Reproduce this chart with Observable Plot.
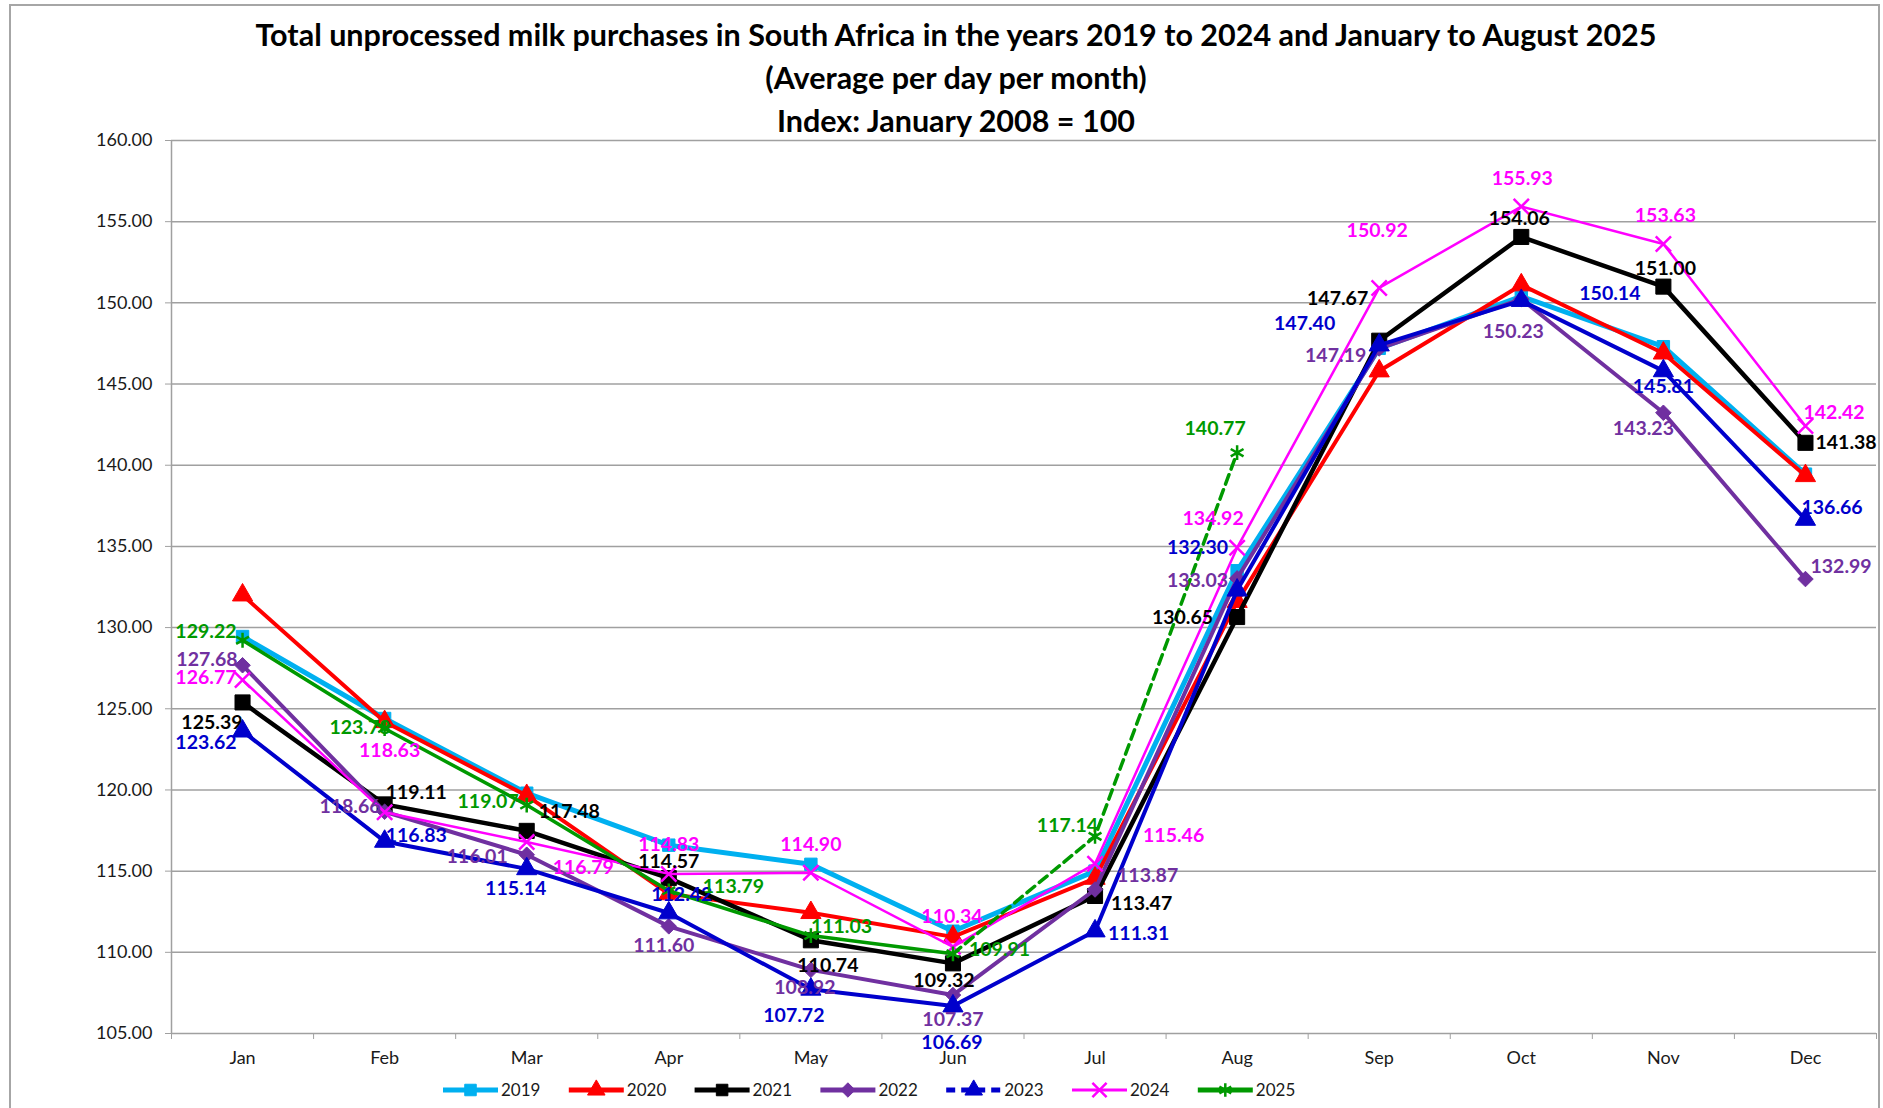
<!DOCTYPE html>
<html>
<head>
<meta charset="utf-8">
<script src="https://cdn.jsdelivr.net/npm/d3@7"></script>
<script src="https://cdn.jsdelivr.net/npm/@observablehq/plot@0.6"></script>
<style>
  body { margin: 0; background: #fff; font-family: Lato, "Open Sans", sans-serif; }
  #wrap { position: relative; width: 1883px; height: 1108px; overflow: hidden; background: #fff; }
  #frame { position: absolute; left: 9px; top: 4px; width: 1871px; height: 1200px; border: 2px solid #a6a6a6; box-sizing: border-box; }
  #title { position: absolute; left: 0; top: 13px; width: 1912px; text-align: center; font-weight: 700; font-size: 30.5px; line-height: 43px; color: #000; }
  #chart { position: absolute; left: 0; top: 100px; }
  #legend { position: absolute; left: 0; top: 1076px; }
</style>
</head>
<body>
<div id="wrap">
  <div id="frame"></div>
  <div id="title">Total unprocessed milk purchases in South Africa in the years 2019 to 2024 and January to August 2025<br>(Average per day per month)<br>Index: January 2008 = 100</div>
  <div id="chart"></div>
  <div id="legend"></div>
</div>
<script>
// ---------- data ----------
const months = ["Jan","Feb","Mar","Apr","May","Jun","Jul","Aug","Sep","Oct","Nov","Dec"];
const years = ["2019","2020","2021","2022","2023","2024","2025"];
const v2019 = [129.45,124.40,119.80,116.60,115.42,111.30,115.00,133.50,147.20,150.40,147.30,139.45];
const v2020 = [132.00,124.20,119.65,113.60,112.44,110.95,114.55,131.60,145.80,151.10,146.90,139.35];
const v2021 = [125.39,119.11,117.48,114.57,110.74,109.32,113.47,130.65,147.67,154.06,151.00,141.38];
const v2022 = [127.68,118.66,116.01,111.60,108.92,107.37,113.87,133.03,147.19,150.23,143.23,132.99];
const v2023 = [123.62,116.83,115.14,112.42,107.72,106.69,111.31,132.30,147.40,150.14,145.81,136.66];
const v2024 = [126.77,118.63,116.79,114.83,114.90,110.34,115.46,134.92,150.92,155.93,153.63,142.42];
const v2025 = [129.22,123.78,119.07,113.79,111.03,109.91,117.14,140.77];
const yTicks = [105,110,115,120,125,130,135,140,145,150,155,160];
const values = [v2019, v2020, v2021, v2022, v2023, v2024, v2025];

// ---------- styles (not data) ----------
const colors  = {"2019":"#00B0F0","2020":"#FF0000","2021":"#000000","2022":"#7030A0","2023":"#0000CC","2024":"#FF00FF","2025":"#009900"};
const symbols = {"2019":"square","2020":"triangle","2021":"square","2022":"diamond2","2023":"triangle","2024":"times","2025":"asterisk"};
const widths  = {"2019":5,"2020":4,"2021":4.5,"2022":4,"2023":4,"2024":2.5,"2025":3.5};
const radii   = {"2019":7,"2020":7.5,"2021":8.5,"2022":7,"2023":7.5,"2024":7,"2025":7};

// label placement per labelled series: [anchor, dx, dy]
const labelPos = {
  "2021": [["end",0,20],["start",1,-12],["start",12,-19],["middle",0,-16],["middle",17,25],["middle",-9,17],["start",16,8],["end",-24,1],["end",-11,-42],["middle",-2,-18],["middle",2,-18],["start",10,0]],
  "2022": [["end",-5,-6],["end",-4,-5],["end",-19,2],["middle",-5,19],["middle",-6,18],["middle",0,25],["start",22,-14],["end",-9,2],["end",-13,7],["middle",-8,33],["middle",-20,16],["start",5,-12]],
  "2023": [["end",-6,12],["start",1,-6],["middle",-11,20],["middle",13,-18],["middle",-17,26],["middle",-1,37],["start",13,3],["end",-9,-42],["end",-44,-21],["start",58,-7],["middle",0,16],["start",-4,-12]],
  "2024": [["end",-6,-2],["middle",5,-61],["start",26,26],["middle",0,-29],["middle",0,-28],["middle",-1,-30],["start",48,-28],["middle",-24,-29],["middle",-2,-57],["middle",1,-28],["middle",2,-28],["start",-2,-13]],
  "2025": [["end",-6,-9],["end",6,-1],["end",-8,-3],["start",34,-4],["start",0,-9],["start",16,-4],["end",3,-11],["middle",-22,-24]]
};

// ---------- table ----------
const rows = [];
years.forEach((yr, k) => values[k].forEach((v, i) => rows.push({year: yr, m: i + 1, v})));

const W = 1883, H = 975;
const marks = [];
marks.push(Plot.ruleY(yTicks, {stroke: "#a0a0a0", strokeWidth: 1.5}));
marks.push(Plot.ruleX([0.5], {stroke: "#a0a0a0", strokeWidth: 1.5}));
marks.push(Plot.axisY({ticks: yTicks, tickFormat: d => d.toFixed(2), tickSize: 6, tickPadding: 13, stroke: "#a0a0a0", fill: "#1a1a1a", fontSize: 18, label: null}));
marks.push(Plot.axisX({ticks: d3.range(0.5, 12.6, 1), tickFormat: () => "", tickSize: 6, stroke: "#a0a0a0", label: null}));
marks.push(Plot.axisX({ticks: d3.range(1, 13), tickFormat: i => months[i - 1], tickSize: 0, tickPadding: 18, fill: "#1a1a1a", fontSize: 18, label: null}));

years.forEach(yr => {
  const d = rows.filter(r => r.year === yr);
  const c = colors[yr];
  if (yr === "2025") {
    marks.push(Plot.line(d.filter(r => r.m <= 6), {x: "m", y: "v", stroke: c, strokeWidth: widths[yr]}));
    marks.push(Plot.line(d.filter(r => r.m >= 6), {x: "m", y: "v", stroke: c, strokeWidth: widths[yr], strokeDasharray: "10,6"}));
  } else {
    marks.push(Plot.line(d, {x: "m", y: "v", stroke: c, strokeWidth: widths[yr]}));
  }
  const open = symbols[yr] === "times" || symbols[yr] === "asterisk";
  marks.push(Plot.dot(d, {x: "m", y: "v", symbol: symbols[yr], r: radii[yr],
    fill: open ? "none" : c, stroke: c, strokeWidth: open ? 2.5 : 1}));
});

Object.keys(labelPos).forEach(yr => {
  const d = rows.filter(r => r.year === yr);
  d.forEach((r, i) => {
    const [a, dx, dy] = labelPos[yr][i];
    marks.push(Plot.text([r], {x: "m", y: "v", text: q => q.v.toFixed(2), textAnchor: a, dx, dy,
      fill: colors[yr], fontWeight: "bold", fontSize: 19.5}));
  });
});

const chart = Plot.plot({
  width: W, height: H,
  marginLeft: 171, marginRight: 7, marginTop: 40, marginBottom: 42,
  x: {type: "linear", domain: [0.5, 12.5], axis: null},
  y: {type: "linear", domain: [105, 160], axis: null},
  style: {fontFamily: "Lato, sans-serif", fontSize: "18px", background: "transparent", overflow: "visible"},
  marks
});
document.getElementById("chart").appendChild(chart);

// ---------- legend ----------
const lg = d3.select("#legend").append("svg").attr("width", 1883).attr("height", 30)
  .style("font-family", "Lato, sans-serif");
const legendX0 = 443, legendStep = 125.8;
years.forEach((yr, k) => {
  const g = lg.append("g").attr("transform", `translate(${legendX0 + k * legendStep},14)`);
  const c = colors[yr];
  g.append("line").attr("x1", 0).attr("x2", 55).attr("y1", 0).attr("y2", 0)
    .attr("stroke", c).attr("stroke-width", yr === "2024" ? 3 : 5)
    .attr("stroke-dasharray", yr === "2023" ? "9,6" : null);
  const symMap = {square: d3.symbolSquare, triangle: d3.symbolTriangle, diamond2: d3.symbolDiamond2, times: d3.symbolTimes, asterisk: d3.symbolAsterisk};
  const open = symbols[yr] === "times" || symbols[yr] === "asterisk";
  g.append("path").attr("transform", "translate(27.5,0)")
    .attr("d", d3.symbol(symMap[symbols[yr]], Math.PI * 6.5 * 6.5)())
    .attr("fill", open ? "none" : c).attr("stroke", c).attr("stroke-width", open ? 2.5 : 1);
  g.append("text").attr("x", 58).attr("y", 0).attr("dy", "0.36em").attr("font-size", 17).attr("fill", "#1a1a1a").text(yr);
});
</script>
</body>
</html>
